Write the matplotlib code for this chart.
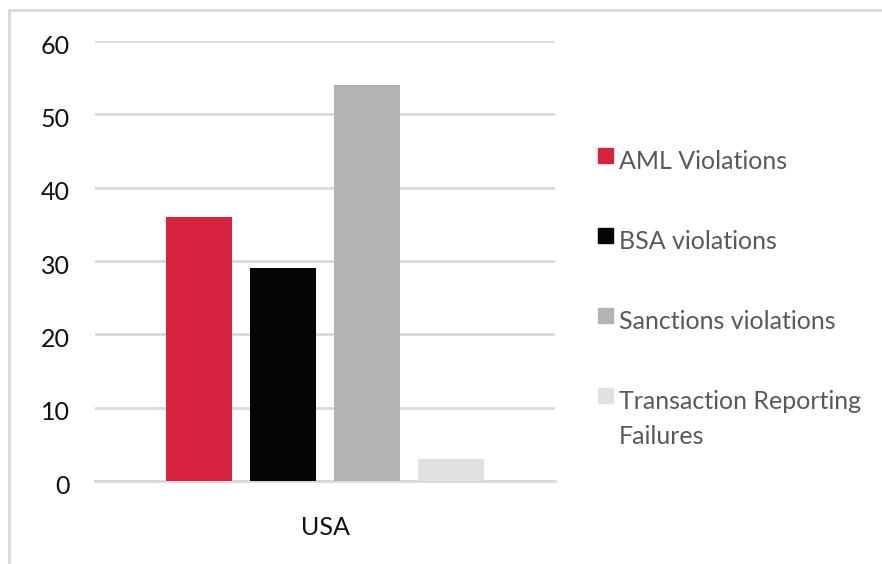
import matplotlib.pyplot as plt
import matplotlib.transforms as mtransforms
from matplotlib.patches import Rectangle

# enforcement actions by violation type
categories = ["AML Violations", "BSA violations", "Sanctions violations",
              "Transaction Reporting\nFailures"]
counts = [36, 29, 54, 3]
colors = ["#D7233F", "#050505", "#B3B3B3", "#E0E0E0"]
country = "USA"
yticks = [0, 10, 20, 30, 40, 50, 60]

plt.rcParams['font.family'] = ['Lato', 'DejaVu Sans']

W, H = 882, 564
fig = plt.figure(figsize=(W / 100, H / 100), dpi=100)
ax = fig.add_axes([95 / W, 1 - 481 / H, 460 / W, 440 / H])

# chart frame (only left and top edges visible)
fig.patches.append(Rectangle((9 / W, -0.05), 1.1, 1 - 10 / H + 0.05,
                             transform=fig.transFigure, fill=False,
                             edgecolor="#D9D9D9", linewidth=2))

for i, (lab, v, c) in enumerate(zip(categories, counts, colors)):
    ax.bar(i, v, width=66 / 84, color=c, label=lab, zorder=3)

ax.set_ylim(0, 60)
ax.set_xlim(1.5 - 230 / 84, 1.5 + 230 / 84)
ax.set_yticks(yticks)
ax.set_xticks([1.5])
ax.set_xticklabels([country])
ax.yaxis.grid(True, color="#D9D9D9", linewidth=2)
ax.set_axisbelow(True)
for s in ["top", "right", "left"]:
    ax.spines[s].set_visible(False)
ax.spines["bottom"].set_color("#D9D9D9")
ax.spines["bottom"].set_linewidth(2)
ax.tick_params(axis="both", length=0, labelsize=18, colors="#111111")
ax.tick_params(axis="y", pad=18)
ax.tick_params(axis="x", pad=25)

# nudge the y labels down a little
shift = mtransforms.ScaledTranslation(0, -3 / 100, fig.dpi_scale_trans)
for lbl in ax.get_yticklabels():
    lbl.set_transform(lbl.get_transform() + shift)

# legend drawn by hand so the swatch sits on the first line of each entry
px = lambda x, y: (x / W, 1 - y / H)
base = 169
for i, (lab, c) in enumerate(zip(categories, colors)):
    y0 = base + 80 * i
    fig.patches.append(Rectangle(px(598, y0 - 6), 15 / W, 15 / H,
                                 transform=fig.transFigure, color=c))
    for j, line in enumerate(lab.split("\n")):
        fig.text(*px(619, y0 + 35 * j), line, fontsize=18,
                 color="#595959", va="baseline", ha="left")

fig.savefig("out.png", dpi=100)
